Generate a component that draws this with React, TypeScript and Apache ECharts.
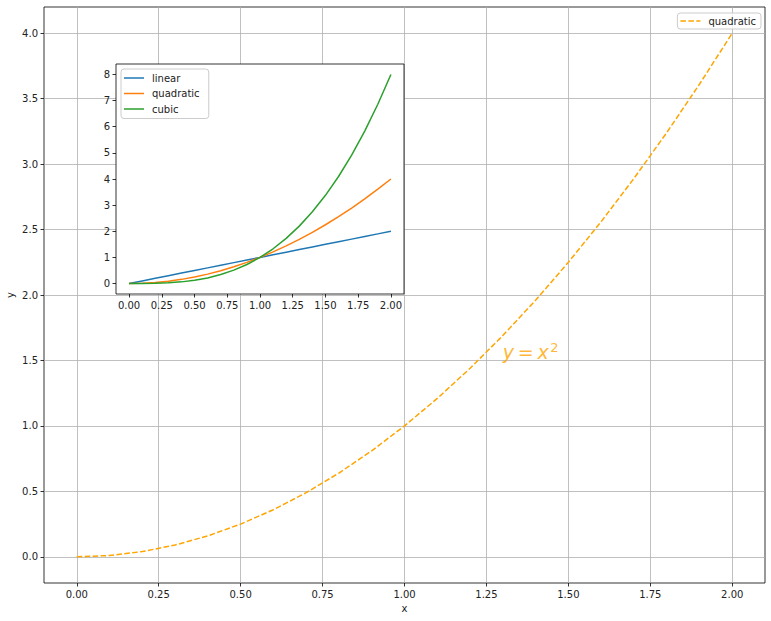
import React, { useEffect, useRef } from "react";
import * as echarts from "echarts";

const xs = [0, 0.1, 0.2, 0.3, 0.4, 0.5, 0.6, 0.7, 0.8, 0.9, 1.0, 1.1, 1.2, 1.3, 1.4, 1.5, 1.6, 1.7, 1.8, 1.9, 2.0];
const linearY = [0, 0.1, 0.2, 0.3, 0.4, 0.5, 0.6, 0.7, 0.8, 0.9, 1.0, 1.1, 1.2, 1.3, 1.4, 1.5, 1.6, 1.7, 1.8, 1.9, 2.0];
const quadY = [0, 0.01, 0.04, 0.09, 0.16, 0.25, 0.36, 0.49, 0.64, 0.81, 1.0, 1.21, 1.44, 1.69, 1.96, 2.25, 2.56, 2.89, 3.24, 3.61, 4.0];
const cubicY = [0, 0.001, 0.008, 0.027, 0.064, 0.125, 0.216, 0.343, 0.512, 0.729, 1.0, 1.331, 1.728, 2.197, 2.744, 3.375, 4.096, 4.913, 5.832, 6.859, 8.0];

const mainXTicks = [0, 0.25, 0.5, 0.75, 1.0, 1.25, 1.5, 1.75, 2.0];
const mainYTicks = [0, 0.5, 1.0, 1.5, 2.0, 2.5, 3.0, 3.5, 4.0];
const insetXTicks = [0, 0.25, 0.5, 0.75, 1.0, 1.25, 1.5, 1.75, 2.0];
const insetYTicks = [0, 1, 2, 3, 4, 5, 6, 7, 8];
const annotationPoint = [1.3, 1.5];

const FONT = "DejaVu Sans";
const SOLID_ICON = "path://M0,0h20v1.5h-20z";
const DASH_ICON = "path://M0,0h5.55v1.5h-5.55z M7.95,0h5.55v1.5h-5.55z M15.9,0h4.1v1.5h-4.1z";

function axisCommon(ticks: number[], digits: number, gridIndex: number, split: boolean) {
  return {
    gridIndex,
    axisLine: { show: false, onZero: false },
    axisTick: {
      show: true,
      length: 3.5,
      inside: false,
      customValues: ticks,
      lineStyle: { color: "#000", width: 0.8 },
    },
    axisLabel: {
      customValues: ticks,
      margin: 6,
      color: "#222",
      fontFamily: FONT,
      fontSize: 10,
      formatter: (v: number) => v.toFixed(digits),
    },
    splitLine: { show: split, lineStyle: { color: "#b0b0b0", width: 0.8 } },
  };
}

const legendCommon = {
  itemWidth: 20,
  itemHeight: 1.5,
  backgroundColor: "rgba(255,255,255,0.8)",
  borderColor: "#ccc",
  borderWidth: 1,
  borderRadius: 3,
  textStyle: { fontFamily: FONT, fontSize: 10, color: "#222", padding: [0, 0, 0, 3] },
  z: 10,
};

export default function App() {
  const ref = useRef<HTMLDivElement>(null);
  useEffect(() => {
    if (!ref.current) return;
    const chart = echarts.init(ref.current, undefined, { renderer: "svg" });
    const option = {
      animation: false,
      backgroundColor: "#fff",
      textStyle: { fontFamily: FONT },
      grid: [
        {
          left: 44, top: 7, right: 6, bottom: 38, outerBoundsMode: "none", containLabel: false,
          show: true, borderColor: "#000", borderWidth: 0.8, backgroundColor: "transparent", z: 0,
        },
        {
          left: 116, top: 64, width: 288, height: 230, outerBoundsMode: "none", containLabel: false,
          show: true, borderColor: "#000", borderWidth: 0.8, backgroundColor: "#fff", z: 5,
        },
      ],
      xAxis: [
        {
          type: "value", min: -0.1, max: 2.1, z: 0,
          ...axisCommon(mainXTicks, 2, 0, true),
          name: "x", nameLocation: "middle", nameGap: 20, nameMoveOverlap: false,
          nameTextStyle: { color: "#222", fontFamily: FONT, fontSize: 10 },
        },
        {
          type: "value", min: -0.1, max: 2.1, z: 6,
          ...axisCommon(insetXTicks, 2, 1, false),
        },
      ],
      yAxis: [
        {
          type: "value", min: -0.2, max: 4.2, z: 0,
          ...axisCommon(mainYTicks, 1, 0, true),
          name: "y", nameLocation: "middle", nameGap: 29, nameRotate: 90, nameMoveOverlap: false,
          nameTextStyle: { color: "#222", fontFamily: FONT, fontSize: 10 },
        },
        {
          type: "value", min: -0.4, max: 8.4, z: 6,
          ...axisCommon(insetYTicks, 0, 1, false),
        },
      ],
      legend: [
        {
          ...legendCommon,
          data: [{ name: "quadratic", icon: DASH_ICON }],
          right: 10, top: 13,
          padding: [3, 5, 3, 3],
        },
        {
          ...legendCommon,
          data: [
            { name: "linear", icon: SOLID_ICON },
            { name: "quadratic ", icon: SOLID_ICON },
            { name: "cubic", icon: SOLID_ICON },
          ],
          orient: "vertical",
          left: 121, top: 69,
          itemGap: 5.5,
          padding: [4, 6, 4.5, 3],
        },
      ],
      series: [
        {
          name: "quadratic", type: "line", xAxisIndex: 0, yAxisIndex: 0,
          data: xs.map((x, i) => [x, quadY[i]]),
          symbol: "none", z: 2,
          lineStyle: { color: "#FFA500", width: 1.5, type: [5.55, 2.4] },
          itemStyle: { color: "#FFA500" },
        },
        {
          name: "annotation", type: "scatter", xAxisIndex: 0, yAxisIndex: 0,
          data: [annotationPoint], symbolSize: 0, silent: true, z: 3,
          label: {
            show: true, position: [0, 0], align: "left", verticalAlign: "bottom", offset: [0, 2],
            formatter: "{i|y} {n|=} {i|x}{s|2}",
            rich: {
              i: { fontFamily: FONT, fontStyle: "italic", fontSize: 19, color: "#FFA500" },
              n: { fontFamily: FONT, fontSize: 19, color: "#FFA500" },
              s: { fontFamily: FONT, fontSize: 13, color: "#FFA500", verticalAlign: "top", padding: [0, 0, 8, 1.5] },
            },
          },
        },
        {
          name: "linear", type: "line", xAxisIndex: 1, yAxisIndex: 1,
          data: xs.map((x, i) => [x, linearY[i]]),
          symbol: "none", z: 7,
          lineStyle: { color: "#1f77b4", width: 1.5 },
          itemStyle: { color: "#1f77b4" },
        },
        {
          name: "quadratic ", type: "line", xAxisIndex: 1, yAxisIndex: 1,
          data: xs.map((x, i) => [x, quadY[i]]),
          symbol: "none", z: 7,
          lineStyle: { color: "#ff7f0e", width: 1.5 },
          itemStyle: { color: "#ff7f0e" },
        },
        {
          name: "cubic", type: "line", xAxisIndex: 1, yAxisIndex: 1,
          data: xs.map((x, i) => [x, cubicY[i]]),
          symbol: "none", z: 7,
          lineStyle: { color: "#2ca02c", width: 1.5 },
          itemStyle: { color: "#2ca02c" },
        },
      ],
    };
    chart.setOption(option as any);
    return () => chart.dispose();
  }, []);
  return (
    <div
      ref={ref}
      style={{ position: "fixed", left: 0, top: 0, width: 771, height: 621 }}
    />
  );
}
